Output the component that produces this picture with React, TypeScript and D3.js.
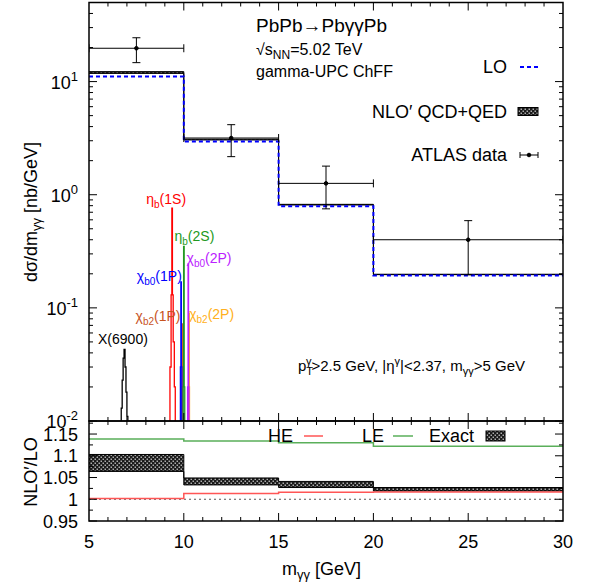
import React from 'react';
import * as d3 from 'd3';

// Binned diphoton mass spectrum, PbPb -> Pb gamma gamma Pb, with NLO'/LO ratio panel.

const binEdges = [5, 10, 15, 20, 30];
const loXsec = [11.1, 2.95, 0.79, 0.193];
const exactLo = [1.064, 1.033, 1.027, 1.019];
const exactHi = [1.103, 1.049, 1.041, 1.027];
const heRatio = [1.002, 1.013, 1.016, 1.0165];
const leRatio = [1.1385, 1.134, 1.13, 1.122];

const atlasX = [7.5, 12.5, 17.5, 25];
const atlasXLo = [5, 10, 15, 20];
const atlasXHi = [10, 15, 20, 30];
const atlasY = [19.7, 3.17, 1.26, 0.4];
const atlasUp = [24.4, 4.16, 1.79, 0.59];
const atlasDn = [14.7, 2.17, 0.75, 0.196];

type Res = { name: string; sub: string; tail: string; color: string; edges: number[]; vals: number[]; lx: number; ly: number };
const resonances: Res[] = [
  { name: 'X(6900)', sub: '', tail: '', color: '#000000', edges: [6.65, 6.7, 6.75, 6.8, 6.85, 6.9, 6.95, 7.0, 7.05, 7.1], vals: [0.008, 0.013, 0.023, 0.036, 0.043, 0.03, 0.018, 0.011, 0.008], lx: 6.79, ly: 0.048 },
  { name: 'η', sub: 'b', tail: '(1S)', color: '#ff0000', edges: [9.27, 9.33, 9.37, 9.4, 9.44, 9.5, 9.55], vals: [0.03, 0.13, 0.76, 0.13, 0.05, 0.02], lx: 9.07, ly: 0.82 },
  { name: 'χ', sub: 'b2', tail: '(1P)', color: '#c8541e', edges: [9.89, 9.9, 9.92, 9.93], vals: [0.02, 0.072, 0.02], lx: 8.64, ly: 0.077 },
  { name: 'χ', sub: 'b0', tail: '(1P)', color: '#0000ff', edges: [9.82, 9.845, 9.87, 9.895], vals: [0.03, 0.17, 0.03], lx: 8.71, ly: 0.174 },
  { name: 'η', sub: 'b', tail: '(2S)', color: '#229922', edges: [9.97, 9.99, 10.02, 10.05], vals: [0.02, 0.35, 0.02], lx: 10.56, ly: 0.39 },
  { name: 'χ', sub: 'b2', tail: '(2P)', color: '#ffb020', edges: [10.26, 10.27, 10.29, 10.3], vals: [0.02, 0.09, 0.02], lx: 11.47, ly: 0.08 },
  { name: 'χ', sub: 'b0', tail: '(2P)', color: '#bb22ff', edges: [10.2, 10.225, 10.25, 10.27], vals: [0.02, 0.245, 0.02], lx: 11.33, ly: 0.25 },
];

const W = 589;
const H = 586;
const xL = 89;
const xR = 563;
const topT = 2.5;
const topB = 421;
const botB = 521;
const FONT = '"Liberation Sans", Arial, Helvetica, sans-serif';

const x = d3.scaleLinear().domain([5, 30]).range([xL, xR]);
const yTop = d3.scaleLog().domain([0.01, 50]).range([topB, topT]);
const yBot = d3.scaleLinear().domain([0.95, 1.18]).range([botB, topB]);

function steps(edges: number[], vals: number[]): [number, number][] {
  const pts: [number, number][] = vals.map((v, i) => [edges[i], v]);
  pts.push([edges[edges.length - 1], vals[vals.length - 1]]);
  return pts;
}

function stepPath(edges: number[], vals: number[], ys: (v: number) => number, closeToFloor = false) {
  let pts = steps(edges, vals);
  // histogram outline drops to below the axis floor at both ends
  if (closeToFloor) pts = [[edges[0], 0.001], ...pts, [edges[edges.length - 1], 0.001]];
  return d3.line<[number, number]>()
    .x((d) => x(d[0]))
    .y((d) => ys(d[1]))
    .curve(d3.curveStepAfter)(pts) ?? '';
}

function bandPath(edges: number[], lo: number[], hi: number[], ys: (v: number) => number) {
  return d3.area<[number, number, number]>()
    .x((d) => x(d[0]))
    .y0((d) => ys(d[1]))
    .y1((d) => ys(d[2]))
    .curve(d3.curveStepAfter)(
      [...lo.map((v, i) => [edges[i], v, hi[i]] as [number, number, number]),
        [edges[edges.length - 1], lo[lo.length - 1], hi[hi.length - 1]]],
    ) ?? '';
}

const xMajor = [5, 10, 15, 20, 25, 30];
const xMinor = d3.range(5, 31);
const yMajor = [0.01, 0.1, 1, 10];
const yMinor = yMajor.flatMap((d) => d3.range(2, 10).map((k) => k * d)).filter((v) => v <= 50);
const yMajorExp = ['-2', '-1', '0', '1'];
const rMajor = [0.95, 1, 1.05, 1.1, 1.15];
const rMinor = [0.975, 1.025, 1.075, 1.125, 1.175];

function Ticks() {
  const out: React.ReactNode[] = [];
  const s = { stroke: '#000', strokeWidth: 1 };
  // x ticks on both panels, all four horizontal borders
  for (const v of xMinor) {
    const L = xMajor.includes(v) ? 8 : 4;
    const px = x(v);
    if (v === 5 || v === 30) continue;
    out.push(<line key={`xt1${v}`} x1={px} x2={px} y1={topT} y2={topT + L} {...s} />);
    out.push(<line key={`xt2${v}`} x1={px} x2={px} y1={topB} y2={topB - L} {...s} />);
    out.push(<line key={`xt3${v}`} x1={px} x2={px} y1={topB} y2={topB + L} {...s} />);
    out.push(<line key={`xt4${v}`} x1={px} x2={px} y1={botB} y2={botB - L} {...s} />);
  }
  for (const v of [...yMajor, ...yMinor]) {
    const L = yMajor.includes(v) ? 8 : 4;
    const py = yTop(v);
    out.push(<line key={`yl${v}`} x1={xL} x2={xL + L} y1={py} y2={py} {...s} />);
    out.push(<line key={`yr${v}`} x1={xR} x2={xR - L} y1={py} y2={py} {...s} />);
  }
  for (const v of [...rMajor, ...rMinor]) {
    const L = rMajor.includes(v) ? 8 : 4;
    const py = yBot(v);
    out.push(<line key={`rl${v}`} x1={xL} x2={xL + L} y1={py} y2={py} {...s} />);
    out.push(<line key={`rr${v}`} x1={xR} x2={xR - L} y1={py} y2={py} {...s} />);
  }
  return <g>{out}</g>;
}

export default function App() {
  return (
    <div style={{ position: 'absolute', left: 0, top: 0 }}>
      <svg width={W} height={H} style={{ display: 'block', background: '#fff' }} fontFamily={FONT}>
        <defs>
          <pattern id="xhatch" patternUnits="userSpaceOnUse" width={4} height={4}>
            <rect width={4} height={4} fill="#1a1a1a" />
            <rect x={0.6} y={0.6} width={1.2} height={1.2} fill="#fff" />
            <rect x={2.6} y={2.6} width={1.2} height={1.2} fill="#fff" />
          </pattern>
          <clipPath id="clipTop">
            <rect x={xL} y={topT} width={xR - xL} height={topB - topT} />
          </clipPath>
          <clipPath id="clipBot">
            <rect x={xL} y={topB} width={xR - xL} height={botB - topB} />
          </clipPath>
        </defs>

        {/* ---------- top panel ---------- */}
        <g clipPath="url(#clipTop)">
          {/* resonances */}
          {resonances.map((r, i) => (
            <path key={i} d={stepPath(r.edges, r.vals, yTop, true)} fill="none" stroke={r.color} strokeWidth={1.3} />
          ))}
          {/* NLO' band */}
          <path d={bandPath(binEdges, loXsec.map((v, i) => v * exactLo[i]), loXsec.map((v, i) => v * exactHi[i]), yTop)}
            fill="url(#xhatch)" />
          <path d={stepPath(binEdges, loXsec.map((v, i) => v * exactHi[i]), yTop)} fill="none" stroke="#000" strokeWidth={1} />
          <path d={stepPath(binEdges, loXsec.map((v, i) => v * exactLo[i]), yTop)} fill="none" stroke="#000" strokeWidth={1} />
          {/* LO */}
          <path d={stepPath(binEdges, loXsec, yTop)} fill="none" stroke="#0000ff" strokeWidth={2} strokeDasharray="4,3" />
          {/* ATLAS */}
          {atlasX.map((v, i) => (
            <g key={i} stroke="#000" strokeWidth={1}>
              <line x1={x(atlasXLo[i])} x2={x(atlasXHi[i])} y1={yTop(atlasY[i])} y2={yTop(atlasY[i])} />
              <line x1={x(atlasXLo[i])} x2={x(atlasXLo[i])} y1={yTop(atlasY[i]) - 4} y2={yTop(atlasY[i]) + 4} />
              <line x1={x(atlasXHi[i])} x2={x(atlasXHi[i])} y1={yTop(atlasY[i]) - 4} y2={yTop(atlasY[i]) + 4} />
              <line x1={x(v)} x2={x(v)} y1={yTop(atlasUp[i])} y2={yTop(atlasDn[i])} />
              <line x1={x(v) - 4} x2={x(v) + 4} y1={yTop(atlasUp[i])} y2={yTop(atlasUp[i])} />
              <line x1={x(v) - 4} x2={x(v) + 4} y1={yTop(atlasDn[i])} y2={yTop(atlasDn[i])} />
              <circle cx={x(v)} cy={yTop(atlasY[i])} r={1.8} fill="#000" />
            </g>
          ))}
        </g>

        {/* resonance labels */}
        {resonances.map((r, i) => (
          <text key={i} x={x(r.lx)} y={yTop(r.ly)} fontSize={14} fill={r.color} textAnchor="middle">
            {r.name}
            {r.sub && <tspan fontSize={10} dy={4}>{r.sub}</tspan>}
            {r.tail && <tspan dy={r.sub ? -4 : 0}>{r.tail}</tspan>}
          </text>
        ))}

        {/* text block */}
        <text x={256} y={32} fontSize={19}>PbPb→PbγγPb</text>
        <text x={256} y={55} fontSize={16}>√s<tspan fontSize={12} dy={4}>NN</tspan><tspan dy={-4}>=5.02 TeV</tspan></text>
        <text x={256} y={77} fontSize={16}>gamma-UPC ChFF</text>
        <text x={525} y={371} fontSize={15} textAnchor="end">
          p<tspan fontSize={11} dy={4}>T</tspan><tspan fontSize={11} dy={-10} dx={-7}>γ</tspan>
          <tspan dy={6}>&gt;2.5 GeV, |η</tspan><tspan fontSize={11} dy={-6}>γ</tspan>
          <tspan dy={6}>|&lt;2.37, m</tspan><tspan fontSize={11} dy={4}>γγ</tspan>
          <tspan dy={-4}>&gt;5 GeV</tspan>
        </text>

        {/* legend */}
        <text x={507} y={73} fontSize={18} textAnchor="end">LO</text>
        <line x1={520} x2={538} y1={67} y2={67} stroke="#0000ff" strokeWidth={2} strokeDasharray="4,3" />
        <text x={507} y={118} fontSize={18} textAnchor="end">NLO′ QCD+QED</text>
        <rect x={518} y={107.5} width={20} height={8} fill="url(#xhatch)" stroke="#000" strokeWidth={1} />
        <text x={507} y={161} fontSize={18} textAnchor="end">ATLAS data</text>
        <g stroke="#000" strokeWidth={1}>
          <line x1={520} x2={538} y1={155} y2={155} />
          <line x1={520} x2={520} y1={152} y2={158} />
          <line x1={538} x2={538} y1={152} y2={158} />
          <circle cx={529} cy={155} r={1.8} fill="#000" />
        </g>

        {/* ---------- bottom panel ---------- */}
        <g clipPath="url(#clipBot)">
          <line x1={xL} x2={xR} y1={yBot(1)} y2={yBot(1)} stroke="#555" strokeWidth={1} strokeDasharray="2,3" />
          <path d={bandPath(binEdges, exactLo, exactHi, yBot)} fill="url(#xhatch)" />
          <path d={stepPath(binEdges, exactHi, yBot)} fill="none" stroke="#000" strokeWidth={1} />
          <path d={stepPath(binEdges, exactLo, yBot)} fill="none" stroke="#000" strokeWidth={1} />
          <path d={stepPath(binEdges, heRatio, yBot)} fill="none" stroke="#ff5555" strokeWidth={1.5} />
          <path d={stepPath(binEdges, leRatio, yBot)} fill="none" stroke="#5aaf5a" strokeWidth={1.5} />
        </g>
        <text x={268} y={442} fontSize={18}>HE</text>
        <line x1={304} x2={323} y1={436} y2={436} stroke="#ff5555" strokeWidth={1.5} />
        <text x={362} y={442} fontSize={18}>LE</text>
        <line x1={393} x2={413} y1={436} y2={436} stroke="#5aaf5a" strokeWidth={1.5} />
        <text x={429} y={442} fontSize={18}>Exact</text>
        <rect x={486} y={431} width={19} height={10} fill="url(#xhatch)" stroke="#000" strokeWidth={1} />

        {/* frames + ticks */}
        <Ticks />
        <rect x={xL} y={topT} width={xR - xL} height={topB - topT} fill="none" stroke="#000" strokeWidth={1.5} />
        <rect x={xL} y={topB} width={xR - xL} height={botB - topB} fill="none" stroke="#000" strokeWidth={1.5} />

        {/* tick labels */}
        {yMajor.map((v, i) => (
          <text key={v} x={78} y={yTop(v) + 7} fontSize={18} textAnchor="end">
            10<tspan fontSize={13} dy={-8}>{yMajorExp[i]}</tspan>
          </text>
        ))}
        {rMajor.map((v) => (
          <text key={v} x={78} y={yBot(v) + 6.5} fontSize={18} textAnchor="end">{String(v)}</text>
        ))}
        {xMajor.map((v) => (
          <text key={v} x={x(v)} y={548} fontSize={18} textAnchor="middle">{v}</text>
        ))}

        {/* axis titles */}
        <text transform="translate(37,212) rotate(-90)" fontSize={18} textAnchor="middle">
          dσ/dm<tspan fontSize={13} dy={4}>γγ</tspan><tspan dy={-4}> [nb/GeV]</tspan>
        </text>
        <text transform="translate(37,472) rotate(-90)" fontSize={18} textAnchor="middle">NLO′/LO</text>
        <text x={282} y={575} fontSize={18}>
          m<tspan fontSize={13} dy={4}>γγ</tspan><tspan dy={-4}> [GeV]</tspan>
        </text>
      </svg>
    </div>
  );
}
